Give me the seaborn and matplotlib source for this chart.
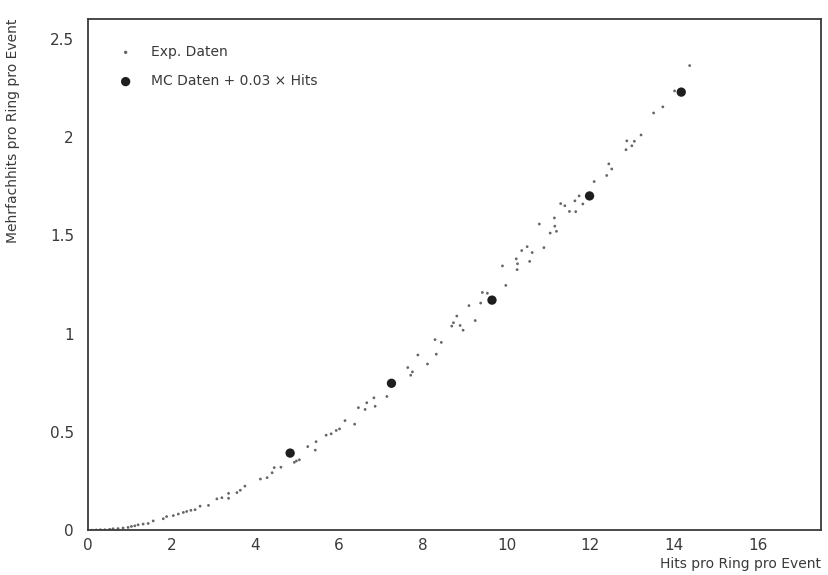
import numpy as np
import pandas as pd
import matplotlib
matplotlib.use("Agg")
import matplotlib.pyplot as plt
import seaborn as sns
from matplotlib.ticker import MultipleLocator, FuncFormatter

# Experimental data (Hits pro Ring pro Event, Mehrfachhits pro Ring pro Event)
exp_x = [0.10, 0.20, 0.30, 0.405, 0.52, 0.60, 0.72, 0.84, 0.96, 1.04, 1.12, 1.20, 1.32,
         1.44, 1.56, 1.80, 1.88, 2.04, 2.16, 2.28, 2.36, 2.46, 2.56, 2.68, 2.88,
         3.08, 3.20, 3.36, 3.36, 3.56, 3.64, 3.75, 4.12, 4.28, 4.40, 4.45, 4.61,
         4.93, 4.98, 5.05, 5.25, 5.45, 5.43, 5.69, 5.81, 5.93, 6.01, 6.14, 6.37,
         6.46, 6.66, 6.62, 6.83, 6.86, 7.14, 7.64, 7.75, 7.71, 7.88, 8.11, 8.29,
         8.32, 8.44, 8.69, 8.73, 8.81, 8.89, 8.96, 9.10, 9.25, 9.42, 9.38, 9.54,
         9.98, 9.90, 10.23, 10.26, 10.25, 10.36, 10.49, 10.61, 10.55, 10.89, 10.78,
         11.04, 11.15, 11.14, 11.19, 11.29, 11.39, 11.50, 11.65, 11.73, 11.63, 11.82,
         12.09, 12.39, 12.44, 12.51, 12.85, 12.87, 12.99, 13.05, 13.21, 13.51, 13.73,
         14.01, 14.37]
exp_y = [0.000, 0.001, 0.002, 0.002, 0.004, 0.007, 0.008, 0.011, 0.014, 0.019, 0.022, 0.027, 0.031,
         0.034, 0.047, 0.058, 0.069, 0.074, 0.082, 0.090, 0.095, 0.101, 0.104, 0.122, 0.126,
         0.159, 0.165, 0.187, 0.162, 0.191, 0.203, 0.224, 0.260, 0.267, 0.292, 0.318, 0.320,
         0.345, 0.352, 0.358, 0.425, 0.450, 0.407, 0.483, 0.490, 0.507, 0.515, 0.557, 0.539,
         0.623, 0.648, 0.614, 0.673, 0.630, 0.680, 0.827, 0.805, 0.788, 0.891, 0.845, 0.969,
         0.895, 0.955, 1.038, 1.055, 1.089, 1.041, 1.017, 1.142, 1.066, 1.209, 1.155, 1.205,
         1.245, 1.344, 1.380, 1.355, 1.325, 1.422, 1.442, 1.412, 1.367, 1.437, 1.557,
         1.511, 1.546, 1.588, 1.520, 1.661, 1.650, 1.621, 1.620, 1.700, 1.675, 1.659,
         1.773, 1.804, 1.863, 1.837, 1.935, 1.980, 1.955, 1.978, 2.010, 2.122, 2.153,
         2.234, 2.363]

# Monte Carlo data (+ 0.03 x Hits)
mc_x = [4.83, 7.25, 9.65, 11.98, 14.17]
mc_y = [0.392, 0.747, 1.170, 1.700, 2.228]

x_label = "Hits pro Ring pro Event"
y_label = "Mehrfachhits pro Ring pro Event"
exp_name = "Exp. Daten"
mc_name = "MC Daten + 0.03 \u00d7 Hits"

sns.set_theme(style="white")
plt.rcParams["font.family"] = ["DejaVu Sans"]

exp_df = pd.DataFrame({"x": exp_x, "y": exp_y})
mc_df = pd.DataFrame({"x": mc_x, "y": mc_y})

fig = plt.figure(figsize=(8.29, 5.75), dpi=100)
ax = fig.add_axes([0.106, 0.078, 0.884, 0.889])

sns.scatterplot(data=exp_df, x="x", y="y", ax=ax, s=4, color="#666666",
                edgecolor="none", label=exp_name)
sns.scatterplot(data=mc_df, x="x", y="y", ax=ax, s=45, color="#1e1e1e",
                edgecolor="none", label=mc_name)

ax.set_xlim(0, 17.5)
ax.set_ylim(0, 2.6)

ax.xaxis.set_major_locator(MultipleLocator(2))
ax.xaxis.set_minor_locator(MultipleLocator(0.5))
ax.yaxis.set_major_locator(MultipleLocator(0.5))
ax.yaxis.set_minor_locator(MultipleLocator(0.1))
ax.yaxis.set_major_formatter(FuncFormatter(lambda v, p: f"{v:g}"))
ax.xaxis.set_major_formatter(FuncFormatter(lambda v, p: f"{v:g}"))

tcol = "#3a3a3a"
ax.tick_params(which="major", direction="in", length=9, width=1.0, color=tcol,
               labelsize=11, labelcolor=tcol, pad=10)
ax.tick_params(which="minor", direction="in", length=4.5, width=1.0, color=tcol)
ax.tick_params(axis="x", which="major", length=8, pad=6)
ax.tick_params(axis="x", which="minor", length=4)
ax.tick_params(top=False, right=False, which="both")

for sp in ax.spines.values():
    sp.set_color(tcol)
    sp.set_linewidth(1.3)

ax.set_xlabel(x_label, fontsize=10, color=tcol, loc="right")
ax.set_ylabel(y_label, fontsize=10, color=tcol, loc="top")
ax.xaxis.set_label_coords(1.0, -0.052)
ax.yaxis.set_label_coords(-0.092, 1.0)

leg = ax.legend(loc="upper left", bbox_to_anchor=(0.025, 0.96), frameon=False,
                fontsize=10, handletextpad=0.8, labelspacing=1.1, markerscale=1.0,
                borderaxespad=0)
for t in leg.get_texts():
    t.set_color(tcol)
hs = leg.legend_handles
hs[0].set_sizes([6])
hs[1].set_sizes([45])

fig.savefig("out.png", dpi=100, facecolor="white")
